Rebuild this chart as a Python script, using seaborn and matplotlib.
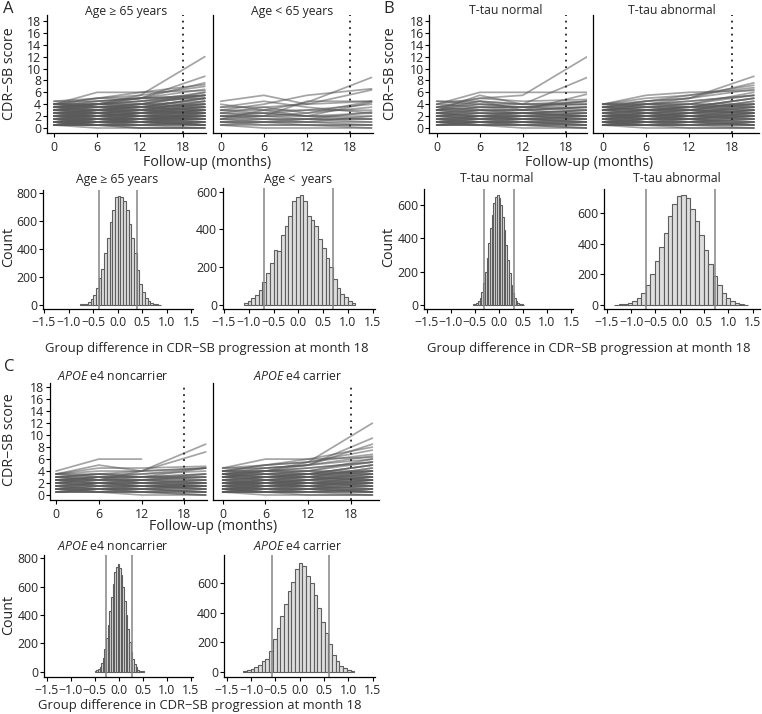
import numpy as np
import pandas as pd
import matplotlib
matplotlib.use("Agg")
import matplotlib.pyplot as plt
import seaborn as sns

sns.set_theme(style="ticks")
plt.rcParams["font.family"] = ["Open Sans", "DejaVu Sans"]
plt.rcParams["mathtext.fontset"] = "custom"
plt.rcParams["mathtext.it"] = "Open Sans:italic"
plt.rcParams["mathtext.rm"] = "Open Sans"

W, H = 762, 714
nan = np.nan

# visit months of the CDR-SB trajectories
MONTHS = [0, 6, 12, 21]

# trajectories shared by the crowded low-score band (score at month 0, 6, 12, 21)
band_low = [
    [0.5, 1, 0.5, 1], [1, 1.5, 1, 1.5], [1.5, 2, 1.5, 2], [2, 2.5, 2, 2.5],
    [2.5, 3, 2.5, 3], [3, 3.5, 3, 3.5], [1, 0.5, 1, 0.5], [1.5, 1, 1.5, 1],
    [2, 1.5, 2, 1.5], [2.5, 2, 2.5, 2], [0.5, 0.5, 0.5, 0], [1, 1, 1, 0.5],
]
band_high = [
    [3.5, 4, 3.5, 4], [3, 2.5, 3, 2.5], [3.5, 3, 3.5, 3], [4, 3.5, 4, 3.5],
    [0.5, 1.5, 1.5, 2.5], [1, 2, 2.5, 3.5], [1.5, 2.5, 3, 4.5], [2, 3, 3.5, 5],
    [3, 4, 4.5, 5.5],
]

age_old = [
    [0.5, 0.5, 0.5, 0.5], [0.5, 0.5, 0.5, 1], [0.5, 1, 1, 1.5], [0.5, 0, 0, 0],
    [1, 1, 1, 1], [1, 1, 1.5, 2], [1, 0.5, 0.5, 0.5], [1, 1.5, 1.5, 2.5],
    [1.5, 1.5, 1.5, 1.5], [1.5, 1.5, 2, 3], [1.5, 1, 1, 0.5], [1.5, 2, 2, 2.5],
    [2, 2, 2, 2], [2, 2, 2.5, 3.5], [2, 1.5, 1.5, 1], [2, 2.5, 3, 4],
    [2.5, 2.5, 2.5, 2.5], [2.5, 3, 3, 4.5], [2.5, 2, 2, 1.5], [2.5, 2.5, 3, 3.5],
    [3, 3, 3, 3], [3, 3.5, 3.5, 5], [3, 2.5, 2, 2], [3, 3, 3.5, 4],
    [3.5, 3.5, 3.5, 3.5], [3.5, 4, 4, 5.5], [3.5, 3, 3, 2.5], [3.5, 4, 4.5, 6],
    [4, 4, 4, 4], [4, 4.5, 5, 6.5], [4, 6, 6, 6.3], [4.5, 5, 5, 5],
    [4, 3.5, 3.5, 3], [4, 5, 5.5, 7], [3.5, 4, 5.5, 12], [3, 4, 5, 8.7],
    [3.5, 4.5, 5, 7.6], [4, 5, 6, 7.3], [0.5, 1, 1, 2], [1, 1.5, 2, 3],
    [2, 2.5, 2.5, 3], [1.5, 2, 2.5, 4], [2.5, 3, 3.5, 5], [3, 3.5, 4, 6],
    [0.5, 0.5, 0, 0], [1, 0.5, 0, 0], [2, 2, 1.5, 0.5], [1.5, 1.5, 1, 1],
    [2.5, 2.5, 2, 2], [3, 3, 2.5, 3], [4, 4, 4.5, 5], [4.5, 4.5, 5, 5.5],
    [0.5, 1, 1.5, 1.5], [1, 1, 1.5, 1.5], [2, 2, 2.5, 2.5], [3.5, 3.5, 4, 4.5],
    [4, 4, 5, 5.5], [2.5, 3, 4, 5.5], [1, 1.5, 1.5, 2], [0.5, 0.5, 1, 0.5],
] + band_low + band_high
age_young = [
    [4.5, 5.5, 4, 4.5], [4, 3, 4.3, 8.5], [3, 4, 5.5, 6.6], [3.5, 3.5, 4, 6.4],
    [2.5, 3.5, 2.5, 4.5], [3, 3, 3, 4], [2, 2.5, 2, 4.3], [2, 2, 2.5, 3.5],
    [1.5, 3, 2, 2.5], [1.5, 1.5, 1.5, 2.7], [1, 1.5, 1, 2], [1, 1, 1.5, 1.5],
    [0.5, 1, 1, 1], [0.5, 0.5, 0.5, 0.5], [1, 0.5, 0.5, 0], [2.5, 2, 1.5, 1],
    [3, 2.5, 2, 1.5], [1.5, 1, 1, 0.5], [2, 1.5, 1.5, 1.5], [0.5, 0, 0, 0],
    [1.5, 2, 2, 2], [2.5, 2.5, 3, 3], [1, 1, 0.5, 0.5], [3.5, 4.5, 3.5, 2.5],
    [2, 2, 4.5, 4.5],
]
tau_normal = [
    [4.5, 4, 3.5, 3.5], [4, 6, 6, 6], [3.5, 5, 5.5, 12], [3, 5.5, 4, 8.5],
    [3.5, 4.5, 3, 5.7], [4, 5, 4.5, 4.8], [3, 4, 3.5, 4.5], [2.5, 3.5, 3.5, 4],
    [3, 3, 3, 3.5], [2.5, 2.5, 2.5, 3], [2, 2.5, 2.5, 2.5], [2, 2, 2, 2],
    [1.5, 2, 2, 2.5], [1.5, 1.5, 1.5, 1.5], [1, 1.5, 1.5, 2], [1, 1, 1, 1],
    [0.5, 1, 1, 1], [0.5, 0.5, 0.5, 0.5], [0.5, 0.5, 0, 0], [1, 0.5, 0.5, 0],
    [1.5, 1, 1, 0.5], [2, 1.5, 1.5, 1], [2.5, 2, 2, 1.5], [3, 2.5, 2.5, 2],
    [3.5, 3, 3, 2.5], [4, 3.5, 3.5, 3], [1, 1, 1.5, 1.5], [2, 2, 2.5, 3],
    [2.5, 3, 3, 3.5], [3, 3.5, 3.5, 4.5], [1.5, 1.5, 2, 2], [3.5, 4, 4, 4.5],
    [0.5, 1, 0.5, 0.5], [2, 3, 2.5, 2], [1, 2, 1.5, 1], [3, 4.5, 4, 4],
    [4.5, 4.5, 4, 4],
] + band_low
tau_abnormal = [
    [0.5, 0.5, 0.5, 0.5], [0.5, 0.5, 0.5, 1], [0.5, 1, 1, 1.5], [0.5, 0, 0, 0],
    [1, 1, 1, 1], [1, 1, 1.5, 2], [1, 0.5, 0.5, 0.5], [1, 1.5, 1.5, 2.5],
    [1.5, 1.5, 1.5, 1.5], [1.5, 1.5, 2, 3], [1.5, 1, 1, 0.5], [1.5, 2, 2, 2.5],
    [2, 2, 2, 2], [2, 2, 2.5, 3.5], [2, 1.5, 1.5, 1], [2, 2.5, 3, 4],
    [2.5, 2.5, 2.5, 2.5], [2.5, 3, 3, 4.5], [2.5, 2, 2, 1.5], [3, 3, 3, 3],
    [3, 3.5, 3.5, 5], [3, 2.5, 2, 2], [3.5, 3.5, 3.5, 3.5], [3.5, 4, 4, 5.5],
    [3.5, 3, 3, 2.5], [4, 4, 4, 4], [4, 4.5, 5, 6.5], [4, 5.5, 6, 6.3],
    [4, 5, 5.5, 7.2], [3.5, 4.5, 5, 8.7], [3, 4, 5, 7.6], [3.5, 4.5, 5.5, 6.8],
    [0.5, 0.5, 1, 2], [1, 1.5, 2, 3], [2, 2.5, 2.5, 3], [2.5, 3, 3.5, 5],
    [3, 3.5, 4, 6], [1, 0.5, 0, 0], [2, 2, 1.5, 0.5], [4, 4, 4.5, 5.5],
    [3, 3, 3.5, 4], [1.5, 2, 2.5, 4],
] + band_low + band_high
apoe_non = [
    [4, 6, 6, nan], [3.5, 5, 4, 8.5], [3, 2.5, 4, 7.2], [3.5, 4.5, 4.5, 4.8],
    [3.5, 4, 4, 4.5], [3, 3.5, 3.5, 4.5], [3, 3, 3, 3.5], [2.5, 3, 3, 3],
    [2.5, 2.5, 2.5, 2.5], [2, 2.5, 2.5, 3], [2, 2, 2, 2], [1.5, 2, 2, 2.5],
    [1.5, 1.5, 1.5, 1.5], [1, 1.5, 1.5, 2], [1, 1, 1, 1], [0.5, 1, 1, 1.5],
    [0.5, 0.5, 0.5, 0.5], [0.5, 0.5, 0, 0], [1, 0.5, 0.5, 0.5], [1.5, 1, 1, 0.5],
    [2, 1.5, 1.5, 1], [2.5, 2, 2, 1.5], [3, 2.5, 2.5, 2], [3.5, 3, 3, 2.5],
    [1, 1, 1.5, 1], [2, 2, 2.5, 3.5], [2.5, 3, 3.5, 4], [3, 3.5, 4, 4.5],
    [1.5, 2, 1.5, 1.5], [0.5, 1, 0.5, 0], [2, 3, 2, 2], [1, 2, 1.5, 1.5],
    [3.5, 3.5, 3, 3], [2.5, 2.5, 3, 4.5],
] + band_low
apoe_car = [
    [0.5, 0.5, 0.5, 0.5], [0.5, 0.5, 0.5, 1], [0.5, 1, 1, 1.5], [0.5, 0, 0, 0],
    [1, 1, 1, 1], [1, 1, 1.5, 2], [1, 0.5, 0.5, 0.5], [1, 1.5, 1.5, 2.5],
    [1.5, 1.5, 1.5, 1.5], [1.5, 1.5, 2, 3], [1.5, 1, 1, 0.5], [1.5, 2, 2, 2.5],
    [2, 2, 2, 2], [2, 2, 2.5, 3.5], [2, 1.5, 1.5, 1], [2, 2.5, 3, 4],
    [2.5, 2.5, 2.5, 2.5], [2.5, 3, 3, 4.5], [2.5, 2, 2, 1.5], [3, 3, 3, 3],
    [3, 3.5, 3.5, 5], [3, 2.5, 2, 2], [3.5, 3.5, 3.5, 3.5], [3.5, 4, 4, 5.5],
    [3.5, 3, 3, 2.5], [4, 4, 4, 4], [4, 4.5, 5, 6.5], [4.5, 6, 6, 6.3],
    [4, 5, 5.5, 7.5], [3.5, 4, 5.5, 12], [3.5, 4.5, 5, 9.5], [3, 4, 5, 8.5],
    [4, 5, 6, 8], [4.5, 5, 5.5, 6.8], [0.5, 0.5, 1, 2], [1, 1.5, 2, 3],
    [2, 2.5, 2.5, 3], [2.5, 3, 3.5, 5], [3, 3.5, 4, 6], [1, 0.5, 0, 0],
    [2, 2, 1.5, 0.5], [4, 4, 4.5, 5.5], [3, 3, 3.5, 4], [1.5, 2, 2.5, 4],
    [4.5, 4.5, 5, 6],
] + band_low + band_high

# permutation histograms: 30 bin counts, data range, reference lines
h_age_old = [5, 5, 10, 20, 40, 70, 120, 190, 260, 370, 480, 590, 680, 770, 780,
             775, 740, 680, 580, 480, 370, 250, 150, 90, 50, 30, 15, 8, 4, 3]
h_age_young = [8, 20, 35, 55, 80, 120, 170, 220, 290, 285, 370, 420, 470, 550, 570,
               580, 550, 470, 450, 420, 350, 300, 250, 200, 140, 90, 60, 40, 20, 10]
h_tau_normal = [5, 8, 15, 25, 45, 80, 130, 200, 280, 370, 460, 540, 610, 650, 660,
                640, 600, 530, 450, 360, 270, 190, 120, 75, 45, 25, 15, 8, 5, 3]
h_tau_abnormal = [3, 5, 8, 15, 25, 45, 80, 130, 200, 290, 380, 470, 580, 660, 710,
                  720, 700, 630, 550, 460, 360, 270, 190, 130, 80, 45, 25, 12, 6, 3]
h_apoe_non = [5, 10, 20, 35, 60, 100, 160, 240, 330, 430, 530, 620, 700, 740, 760,
              730, 680, 600, 500, 400, 300, 210, 140, 90, 55, 30, 15, 8, 4, 2]
h_apoe_car = [5, 10, 18, 30, 45, 75, 85, 140, 220, 300, 380, 460, 550, 610, 700,
              740, 720, 650, 600, 520, 430, 340, 260, 190, 110, 70, 40, 25, 12, 5]
ranges = {"age_old": (-0.77, 0.89), "age_young": (-1.1, 1.15),
          "tau_normal": (-0.54, 0.53), "tau_abnormal": (-1.34, 1.41),
          "apoe_non": (-0.5, 0.52), "apoe_car": (-1.16, 1.12)}
cuts = {"age_old": (-0.37, 0.4), "age_young": (-0.7, 0.7),
        "tau_normal": (-0.3, 0.31), "tau_abnormal": (-0.7, 0.72),
        "apoe_non": (-0.26, 0.28), "apoe_car": (-0.57, 0.6)}

LINE = "#5a5a5a"
FILL = "#dedede"
EDGE = "#5e5e5e"
TICK = 8.8

fig = plt.figure(figsize=(W / 100, H / 100), dpi=100)


def px_axes(l, r, t, b):
    return fig.add_axes([l / W, 1 - b / H, (r - l) / W, (b - t) / H])


def lims(e0, e1, pa, va, pb, vb):
    s = (vb - va) / (pb - pa)
    return va + (e0 - pa) * s, va + (e1 - pa) * s


def ftext(x, y, s, **kw):
    kw.setdefault("ha", "center")
    kw.setdefault("va", "center")
    fig.text(x / W, 1 - y / H, s, **kw)


def style(ax, pad=1.5):
    sns.despine(ax=ax)
    for sp in ("left", "bottom"):
        ax.spines[sp].set_color("black")
        ax.spines[sp].set_linewidth(0.9)
    ax.tick_params(length=3, width=0.8, color="black", labelsize=TICK, pad=pad)
    ax.tick_params(axis="y", pad=1)
    ax.set_xlabel("")
    ax.set_ylabel("")


def spaghetti(rows, box, xcal, ycal, show_y):
    l, r, t, b = box
    ax = px_axes(l, r, t, b)
    df = pd.DataFrame([(i, m, v) for i, row in enumerate(rows)
                       for m, v in zip(MONTHS, row)],
                      columns=["id", "month", "score"]).dropna()
    sns.lineplot(data=df, x="month", y="score", units="id", estimator=None,
                 color=LINE, lw=1.25, alpha=0.55, ax=ax, legend=False)
    ax.axvline(18, color="#222222", ls=(0, (1, 2.6)), lw=1.3)
    ax.set_xlim(*lims(l, r, *xcal))
    ax.set_ylim(*lims(b, t, *ycal))
    ax.set_xticks([0, 6, 12, 18])
    ax.set_yticks(range(0, 19, 2))
    style(ax, pad=2.5)
    if not show_y:
        ax.tick_params(axis="y", left=False, labelleft=False)
    return ax


def histo(key, counts, box, xcal, ycal, yticks):
    l, r, t, b = box
    ax = px_axes(l, r, t, b)
    lo, hi = ranges[key]
    step = (hi - lo) / len(counts)
    df = pd.DataFrame({"diff": lo + step * (np.arange(len(counts)) + 0.5),
                       "n": counts})
    sns.histplot(data=df, x="diff", weights="n", bins=len(counts),
                 binrange=(lo, hi), color=FILL, edgecolor=EDGE,
                 linewidth=0.8, alpha=1, ax=ax)
    for c in cuts[key]:
        ax.axvline(c, color="#858585", lw=1.1)
    ax.set_xlim(*lims(l, r, *xcal))
    ax.set_ylim(*lims(b, t, *ycal))
    ax.set_xticks([-1.5, -1, -0.5, 0, 0.5, 1, 1.5])
    ax.set_xticklabels(["\u22121.5", "\u22121.0", "\u22120.5", "0.0", "0.5", "1.0", "1.5"])
    ax.set_yticks(yticks)
    style(ax, pad=2.2)
    return ax


# ---- spaghetti panels
spaghetti(age_old, (46.7, 205.5, 15, 133), (54, 0, 183.3, 18), (128, 0, 21, 18), True)
spaghetti(age_young, (213.3, 372.7, 15, 133), (220.7, 0, 350, 18), (128, 0, 21, 18), False)
spaghetti(tau_normal, (429.3, 586.7, 15, 133), (436.7, 0, 565.7, 18), (128, 0, 21, 18), True)
spaghetti(tau_abnormal, (593.3, 759.3, 15, 133), (602.7, 0, 732.3, 18), (128, 0, 21, 18), False)
spaghetti(apoe_non, (50, 206.7, 382.7, 500), (56, 0, 184.3, 18), (495, 0, 387.3, 18), True)
spaghetti(apoe_car, (213.3, 379, 382.7, 500), (222.7, 0, 351, 18), (495, 0, 387.3, 18), False)

# ---- histograms
histo("age_old", h_age_old, (43.3, 193, 190, 309), (44, -1.5, 191, 1.5), (305, 0, 193, 800), range(0, 801, 200))
histo("age_young", h_age_young, (222.7, 375, 188, 309), (224, -1.5, 372.7, 1.5), (305, 0, 191.7, 600), range(0, 601, 200))
histo("tau_normal", h_tau_normal, (424.3, 573, 189, 309), (426.7, -1.5, 571, 1.5), (305, 0, 205, 600), range(0, 601, 200))
histo("tau_abnormal", h_tau_abnormal, (604, 760, 189, 309), (606.7, -1.5, 752.7, 1.5), (305, 0, 213.3, 600), range(0, 601, 200))
histo("apoe_non", h_apoe_non, (44.3, 193, 555, 676.7), (46.7, -1.5, 190.7, 1.5), (671.7, 0, 558.3, 800), range(0, 801, 200))
histo("apoe_car", h_apoe_car, (223.7, 375, 555, 676.7), (226.7, -1.5, 372.7, 1.5), (671.7, 0, 583.3, 600), range(0, 601, 200))

# ---- titles and labels
T = 8.8
APOE = r"$\it{APOE}$"
ftext(126, 11, "Age \u2265 65 years", fontsize=T)
ftext(292, 11, "Age < 65 years", fontsize=T)
ftext(117, 179, "Age \u2265 65 years", fontsize=T)
ftext(298, 179, "Age <  years", fontsize=T)
ftext(506, 11, "T-tau normal", fontsize=T)
ftext(672, 11, "T-tau abnormal", fontsize=T)
ftext(497, 179, "T-tau normal", fontsize=T)
ftext(677, 179, "T-tau abnormal", fontsize=T)
ftext(113, 377, APOE + " e4 noncarrier", fontsize=T)
ftext(298, 377, APOE + " e4 carrier", fontsize=T)
ftext(113, 547, APOE + " e4 noncarrier", fontsize=T)
ftext(298, 547, APOE + " e4 carrier", fontsize=T)

for x, y, s in [(8, 9, "A"), (389, 9, "B"), (9, 367, "C")]:
    ftext(x, y, s, fontsize=12)

L = 10.3
G = 9.4
ftext(10, 74, "CDR\u2212SB score", fontsize=L, rotation=90)
ftext(390, 74, "CDR\u2212SB score", fontsize=L, rotation=90)
ftext(10, 440, "CDR\u2212SB score", fontsize=L, rotation=90)
ftext(9, 247, "Count", fontsize=L, rotation=90)
ftext(389, 247, "Count", fontsize=L, rotation=90)
ftext(9, 615, "Count", fontsize=L, rotation=90)
ftext(207, 162, "Follow-up (months)", fontsize=L)
ftext(589, 162, "Follow-up (months)", fontsize=L)
ftext(213, 527, "Follow-up (months)", fontsize=L)
ftext(207, 348, "Group difference in CDR\u2212SB progression at month 18", fontsize=G)
ftext(589, 348, "Group difference in CDR\u2212SB progression at month 18", fontsize=G)
ftext(200, 705, "Group difference in CDR\u2212SB progression at month 18", fontsize=G)

fig.savefig("out.png", dpi=100)
